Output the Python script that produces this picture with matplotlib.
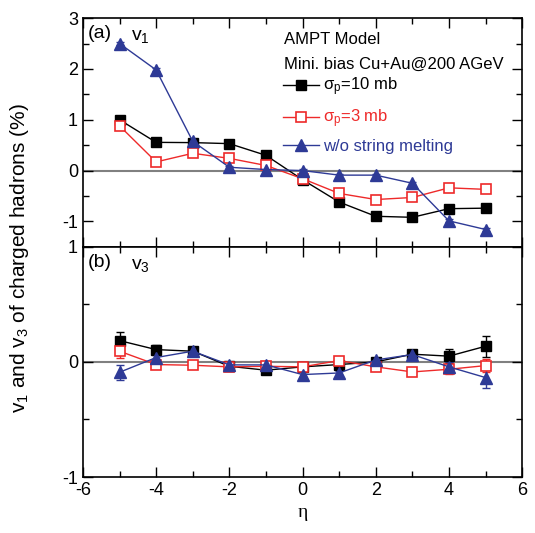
import numpy as np
import matplotlib.pyplot as plt
from matplotlib.ticker import MultipleLocator

plt.rcParams['font.family'] = ['Liberation Sans', 'DejaVu Sans']
plt.rcParams['mathtext.fontset'] = 'custom'
plt.rcParams['mathtext.rm'] = 'Liberation Sans'
plt.rcParams['mathtext.it'] = 'Liberation Sans:italic'
plt.rcParams['axes.unicode_minus'] = False

eta = [-5, -4, -3, -2, -1, 0, 1, 2, 3, 4, 5]

# v1 (%)
v1_10mb = [1.00, 0.555, 0.55, 0.53, 0.30, -0.18, -0.62, -0.90, -0.92, -0.75, -0.74]
v1_3mb = [0.88, 0.17, 0.34, 0.24, 0.10, -0.16, -0.45, -0.57, -0.53, -0.34, -0.37]
v1_nosm = [2.50, 1.98, 0.575, 0.065, 0.02, 0.0, -0.09, -0.09, -0.25, -0.99, -1.16]
v1_err = [0.03] * 11

# v3 (%)
v3_10mb = [0.185, 0.107, 0.093, -0.038, -0.072, -0.043, -0.023, 0.0, 0.067, 0.05, 0.136]
v3_10mb_err = [0.075, 0.04, 0.02, 0.02, 0.02, 0.02, 0.02, 0.02, 0.03, 0.058, 0.093]
v3_3mb = [0.093, -0.023, -0.029, -0.043, -0.038, -0.043, 0.012, -0.043, -0.087, -0.064, -0.032]
v3_3mb_err = [0.06, 0.02, 0.02, 0.02, 0.02, 0.02, 0.02, 0.02, 0.03, 0.04, 0.06]
v3_nosm = [-0.09, 0.038, 0.093, -0.026, -0.026, -0.11, -0.096, 0.017, 0.064, -0.043, -0.136]
v3_nosm_err = [0.065, 0.02, 0.02, 0.02, 0.02, 0.02, 0.02, 0.02, 0.03, 0.04, 0.09]

black = 'black'
red = '#ee2a2a'
blue = '#2e3a96'

fig = plt.figure(figsize=(5.35, 5.33), dpi=100)
ax1 = fig.add_axes([0.155, 0.537, 0.821, 0.429])
ax2 = fig.add_axes([0.155, 0.105, 0.821, 0.432], sharex=ax1)

def style(ax):
    ax.axhline(0, color='#808080', lw=1.5, zorder=0)
    ax.set_xlim(-6, 6)
    ax.xaxis.set_major_locator(MultipleLocator(2))
    ax.xaxis.set_minor_locator(MultipleLocator(1))
    ax.tick_params(which='both', direction='in', top=True, right=True, labelsize=13)
    ax.tick_params(which='major', length=7, width=1)
    ax.tick_params(which='minor', length=4, width=1)
    for s in ax.spines.values():
        s.set_linewidth(1.2)

def draw(ax, ys, errs):
    (y10, e10), (y3, e3), (yn, en) = zip(ys, errs)
    ax.errorbar(eta, y10, yerr=e10, fmt='none', ecolor=black, lw=1, capsize=3)
    ax.errorbar(eta, y3, yerr=e3, fmt='none', ecolor=red, lw=1, capsize=3)
    ax.errorbar(eta, yn, yerr=en, fmt='none', ecolor=blue, lw=1, capsize=3)
    ax.plot(eta, y10, color=black, marker='s', ms=6.5, lw=1, label='σ$_{\\rm p}$=10 mb')
    ax.plot(eta, y3, color=red, marker='s', ms=6.5, lw=1, mfc='white', mew=1.2,
            label='σ$_{\\rm p}$=3 mb')
    ax.plot(eta, yn, color=blue, marker='^', ms=8.5, lw=1, label='w/o string melting')

style(ax1)
style(ax2)
draw(ax1, [v1_10mb, v1_3mb, v1_nosm], [v1_err, v1_err, v1_err])
draw(ax2, [v3_10mb, v3_3mb, v3_nosm], [v3_10mb_err, v3_3mb_err, v3_nosm_err])

ax1.set_ylim(-1.5, 3)
ax1.yaxis.set_major_locator(MultipleLocator(1))
ax1.yaxis.set_minor_locator(MultipleLocator(0.5))
ax1.tick_params(labelbottom=False)
ax2.set_ylim(-1, 1)
ax2.yaxis.set_major_locator(MultipleLocator(1))
ax2.yaxis.set_minor_locator(MultipleLocator(0.5))

ax1.text(0.01, 0.97, '(a)', transform=ax1.transAxes, fontsize=14, va='top')
ax1.text(0.11, 0.955, 'v$_1$', transform=ax1.transAxes, fontsize=14, va='top')
ax2.text(0.01, 0.97, '(b)', transform=ax2.transAxes, fontsize=14, va='top')
ax2.text(0.11, 0.955, 'v$_3$', transform=ax2.transAxes, fontsize=14, va='top')

ax1.text(0.457, 0.885, 'AMPT Model', transform=ax1.transAxes, fontsize=12)
ax1.text(0.457, 0.78, 'Mini. bias Cu+Au@200 AGeV', transform=ax1.transAxes, fontsize=12)
leg = ax1.legend(loc='upper left', bbox_to_anchor=(0.455, 0.748), frameon=False,
                 fontsize=12, handlelength=2.2, handletextpad=0.2, labelspacing=0.55,
                 labelcolor='linecolor', borderaxespad=0, borderpad=0)

ax2.set_xlabel('η', fontsize=14, family='Liberation Serif')
fig.text(0.037, 0.515, 'v$_1$ and v$_3$ of charged hadrons (%)', rotation=90,
         fontsize=15, ha='center', va='center')

fig.savefig('out.png', dpi=100)
